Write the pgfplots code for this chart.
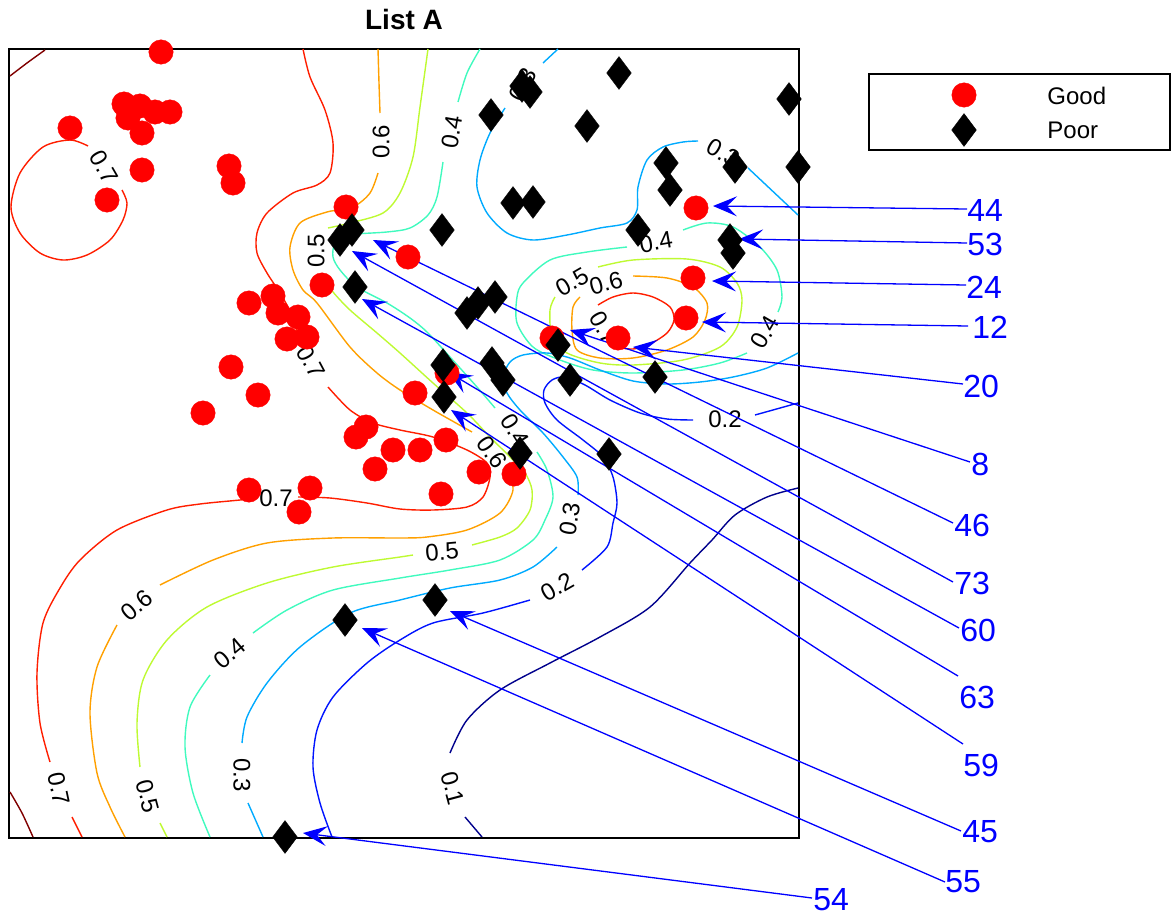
\documentclass[border=0pt]{standalone}
\usepackage{fontspec}
\setmainfont{Liberation Sans}
\usepackage{pgfplots}
\pgfplotsset{compat=1.18}
\usetikzlibrary{arrows.meta}
\definecolor{c01}{RGB}{0,0,140}
\definecolor{c02}{RGB}{0,20,255}
\definecolor{c03}{RGB}{0,170,255}
\definecolor{c04}{RGB}{64,250,190}
\definecolor{c05}{RGB}{190,250,50}
\definecolor{c06}{RGB}{255,160,0}
\definecolor{c07}{RGB}{255,30,0}
\definecolor{c08}{RGB}{128,0,0}
\pgfplotsset{cont/.style={smooth, no marks, line width=0.7pt}}
\tikzset{cl/.style={font=\fontsize{12}{14}\selectfont, inner sep=0pt, text=black},
  num/.style={anchor=west, inner sep=0pt, text=blue, font=\fontsize{16}{18}\selectfont}}
\begin{document}
\begin{tikzpicture}
\begin{axis}[scale only axis, width=395pt, height=394.5pt,
  xmin=9, xmax=799, ymin=49, ymax=838, y dir=reverse,
  xtick=\empty, ytick=\empty, axis line style={line width=1pt},
  clip=false]
\draw[draw=none] (axis cs:0,0) rectangle (axis cs:1171,915);
% ---- contours ----
% 0.8
\addplot[cont,c08] coordinates {(10,76) (27,63) (45,50)};
\addplot[cont,c08] coordinates {(10,792) (22,813) (33,837)};
% 0.7
\addplot[cont,c07] coordinates {(88,146) (70,140) (43,147) (20,173) (11,207) (20,233) (40,253) (63,260) (87,255) (110,240) (123,220) (127,203) (122,190)};
\addplot[cont,c07] coordinates {(303,49) (310,77) (325,110) (333,143) (330,173) (317,185) (293,193) (267,213) (257,233) (257,253) (267,273) (280,293) (292,315) (298,337)};
\addplot[cont,c07] coordinates {(328,387) (350,410) (373,423) (400,430) (433,437) (467,450) (487,463) (490,477) (483,497) (467,507) (433,510) (400,509) (367,503) (330,498) (298,497)};
\addplot[cont,c07] coordinates {(257,498) (240,500) (200,504) (167,510) (117,530) (80,560) (60,588) (43,623) (37,673) (40,723) (50,762)};
\addplot[cont,c07] coordinates {(72,817) (82,837)};
\addplot[cont,c07] coordinates {(598,305) (613,297) (633,293) (653,297) (670,307) (674,320) (667,333) (650,344) (633,349) (615,347)};
% 0.6
\addplot[cont,c06] coordinates {(378,49) (379,83) (380,113)};
\addplot[cont,c06] coordinates {(378,173) (370,193) (353,207) (327,212) (300,223) (290,247) (293,270) (303,290) (317,303) (350,347) (377,373) (400,390) (433,410) (472,432)};
\addplot[cont,c06] coordinates {(507,470) (513,490) (500,513) (467,530) (427,537) (400,538) (333,538) (267,543) (213,560) (160,585)};
\addplot[cont,c06] coordinates {(117,625) (97,667) (90,713) (97,773) (110,807) (125,837)};
\addplot[cont,c06] coordinates {(633,276) (667,278) (693,287) (707,303) (705,320) (693,337) (667,350) (633,358) (600,358) (577,350) (572,330) (573,307) (580,297)};
% 0.5
\addplot[cont,c05] coordinates {(428,49) (420,107) (413,157) (400,193) (383,213) (350,223) (328,228)};
\addplot[cont,c05] coordinates {(322,276) (333,292) (350,310) (377,333) (400,353) (433,383) (467,413) (490,437) (510,457) (525,473) (532,490) (530,510) (517,528) (500,537) (472,545)};
\addplot[cont,c05] coordinates {(413,555) (400,557) (333,567) (267,583) (207,607) (167,640) (143,680) (137,723) (140,767)};
\addplot[cont,c05] coordinates {(160,823) (167,837)};
\addplot[cont,c05] coordinates {(598,267) (633,260) (687,259) (720,267) (737,283) (742,300) (737,327) (720,347) (683,360) (633,365) (600,363) (567,353) (552,337) (550,310) (555,297)};
% 0.4
\addplot[cont,c04] coordinates {(480,49) (467,73) (458,102)};
\addplot[cont,c04] coordinates {(443,162) (437,197) (428,215) (410,228) (387,232) (347,235) (335,243) (333,257) (340,270) (357,287) (387,303) (410,318) (427,332) (450,357) (477,387) (495,408)};
\addplot[cont,c04] coordinates {(537,452) (547,470) (553,497) (545,520) (533,540) (500,560) (450,570) (400,578) (333,590) (287,610) (253,633)};
\addplot[cont,c04] coordinates {(210,675) (190,707) (185,747) (193,793) (210,837)};
\addplot[cont,c04] coordinates {(683,230) (707,223) (733,227) (760,247) (777,270) (782,297) (778,312)};
\addplot[cont,c04] coordinates {(747,353) (720,363) (683,370) (633,373) (593,370) (560,360) (533,347) (517,323) (517,297) (523,283) (550,260) (587,252) (627,247)};
% 0.3
\addplot[cont,c03] coordinates {(558,49) (543,63)};
\addplot[cont,c03] coordinates {(505,108) (490,133) (480,160) (477,187) (487,213) (507,233) (533,240) (567,235) (600,228) (627,223) (637,210) (638,187) (647,160) (663,147) (683,142) (698,141)};
\addplot[cont,c03] coordinates {(748,168) (798,215)};
\addplot[cont,c03] coordinates {(798,353) (767,368) (733,377) (700,382) (667,384) (633,381) (600,370) (570,358) (547,353) (523,355) (510,362) (503,377) (507,393) (520,410) (543,433) (563,457) (577,477) (578,495)};
\addplot[cont,c03] coordinates {(557,547) (533,567) (500,580) (450,588) (400,600) (350,613) (300,647) (267,683) (247,717) (242,743)};
\addplot[cont,c03] coordinates {(248,803) (263,837)};
% 0.2
\addplot[cont,c02] coordinates {(798,403) (755,415)};
\addplot[cont,c02] coordinates {(693,420) (667,419) (640,413) (610,400) (585,385) (565,377) (552,380) (544,390) (545,403) (557,420) (583,440) (603,457) (613,477) (617,503) (613,523) (607,547) (582,570)};
\addplot[cont,c02] coordinates {(530,600) (483,613) (433,623) (400,640) (367,663) (333,697) (317,730) (313,767) (320,803) (332,837)};
% 0.1
\addplot[cont,c01] coordinates {(798,488) (767,497) (735,515) (712,540) (690,563) (650,607) (600,637) (550,663) (500,690) (467,720) (450,753)};
\addplot[cont,c01] coordinates {(465,817) (482,837)};
% ---- contour labels ----
\node[cl,rotate=-60] at (axis cs:104,167) {0.7};
\node[cl,rotate=-62] at (axis cs:311,362) {0.7};
\node[cl] at (axis cs:276,498) {0.7};
\node[cl,rotate=-78] at (axis cs:59,789) {0.7};
\node[cl,rotate=-60] at (axis cs:604,328) {0.7};
\node[cl,rotate=90] at (axis cs:381,142) {0.6};
\node[cl,rotate=-55] at (axis cs:492,452) {0.6};
\node[cl,rotate=40] at (axis cs:137,605) {0.6};
\node[cl,rotate=15] at (axis cs:606,283) {0.6};
\node[cl,rotate=90] at (axis cs:316,251) {0.5};
\node[cl,rotate=5] at (axis cs:442,552) {0.5};
\node[cl,rotate=-75] at (axis cs:148,796) {0.5};
\node[cl,rotate=30] at (axis cs:572,282) {0.5};
\node[cl,rotate=80] at (axis cs:452,132) {0.4};
\node[cl,rotate=-58] at (axis cs:515,430) {0.4};
\node[cl,rotate=40] at (axis cs:230,653) {0.4};
\node[cl,rotate=10] at (axis cs:656,242) {0.4};
\node[cl,rotate=60] at (axis cs:765,332) {0.4};
\node[cl,rotate=62] at (axis cs:523,85) {0.3};
\node[cl,rotate=-30] at (axis cs:723,153) {0.3};
\node[cl,rotate=80] at (axis cs:570,519) {0.3};
\node[cl,rotate=-90] at (axis cs:242,775) {0.3};
\node[cl] at (axis cs:725,419) {0.2};
\node[cl,rotate=30] at (axis cs:557,587) {0.2};
\node[cl,rotate=-75] at (axis cs:453,788) {0.1};
% ---- points ----
\addplot[only marks, mark=*, mark size=6.1pt, mark options={fill=red, draw=red, line width=0.2pt}] coordinates {
(161,52) (124,104) (140,106) (155,112) (170,112) (128,118) (142,133) (70,128) (142,170) (107,200)
(229,166) (233,183) (346,207) (408,257) (322,285) (249,303) (273,296) (278,313) (298,317) (287,339)
(307,337) (231,367) (258,395) (203,413) (415,393) (447,373) (366,427) (356,437) (393,450) (420,450)
(446,440) (375,469) (479,472) (514,474) (441,494) (249,490) (310,488) (299,512) (696,208) (693,278)
(686,318) (618,338) (552,338)};
\addplot[only marks, mark=diamond*, mark size=8.2pt, mark options={fill=black, draw=black, line width=0.2pt}] coordinates {
(619,73) (789,99) (522,86) (530,92) (491,115) (587,126) (666,163) (670,190) (735,167) (798,167)
(513,203) (533,202) (442,230) (638,230) (730,240) (733,253) (340,240) (352,230) (355,287) (467,313)
(478,303) (495,297) (492,363) (503,380) (443,365) (444,397) (558,345) (570,380) (655,377) (520,453)
(609,454) (435,600) (345,620) (285,837)};
% ---- arrows ----
\pgfplotsset{arr/.style={blue, line width=0.65pt, no marks, -{Stealth[length=12pt,width=10pt,inset=5pt]}}}
\addplot[arr] coordinates {(967,209) (713,206)};
\addplot[arr] coordinates {(967,243) (739,239)};
\addplot[arr] coordinates {(966,285) (712,281)};
\addplot[arr] coordinates {(968,326) (702,322)};
\addplot[arr] coordinates {(963,384) (633,347)};
\addplot[arr] coordinates {(970,462) (570,330)};
\addplot[arr] coordinates {(953,523) (373,240)};
\addplot[arr] coordinates {(953,582) (352,251)};
\addplot[arr] coordinates {(959,628) (362,299)};
\addplot[arr] coordinates {(958,676) (448,372)};
\addplot[arr] coordinates {(963,744) (451,410)};
\addplot[arr] coordinates {(961,831) (450,611)};
\addplot[arr] coordinates {(945,882) (362,628)};
\addplot[arr] coordinates {(812,898) (303,833)};
\node[num] at (axis cs:967,210) {44};
\node[num] at (axis cs:967,244) {53};
\node[num] at (axis cs:966,287) {24};
\node[num] at (axis cs:972,327) {12};
\node[num] at (axis cs:963,386) {20};
\node[num] at (axis cs:971,464) {8};
\node[num] at (axis cs:954,525) {46};
\node[num] at (axis cs:954,583) {73};
\node[num] at (axis cs:960,630) {60};
\node[num] at (axis cs:959,697) {63};
\node[num] at (axis cs:963,765) {59};
\node[num] at (axis cs:962,832) {45};
\node[num] at (axis cs:945,882) {55};
\node[num] at (axis cs:813,900) {54};
% ---- legend ----
\draw[line width=0.75pt, fill=white] (axis cs:869,74) rectangle (axis cs:1170,150);
\addplot[only marks, mark=*, mark size=6.1pt, mark options={fill=red, draw=red, line width=0.2pt}] coordinates {(964,95)};
\addplot[only marks, mark=diamond*, mark size=8.2pt, mark options={fill=black, draw=black, line width=0.2pt}] coordinates {(964,130)};
\node[anchor=west, inner sep=0pt, font=\fontsize{12}{14}\selectfont] at (axis cs:1047,96) {Good};
\node[anchor=west, inner sep=0pt, font=\fontsize{12}{14}\selectfont] at (axis cs:1047,130) {Poor};
% ---- title ----
\node[font=\bfseries\fontsize{14}{16}\selectfont, inner sep=0pt] at (axis cs:404,19) {List A};
\end{axis}
\end{tikzpicture}
\end{document}
